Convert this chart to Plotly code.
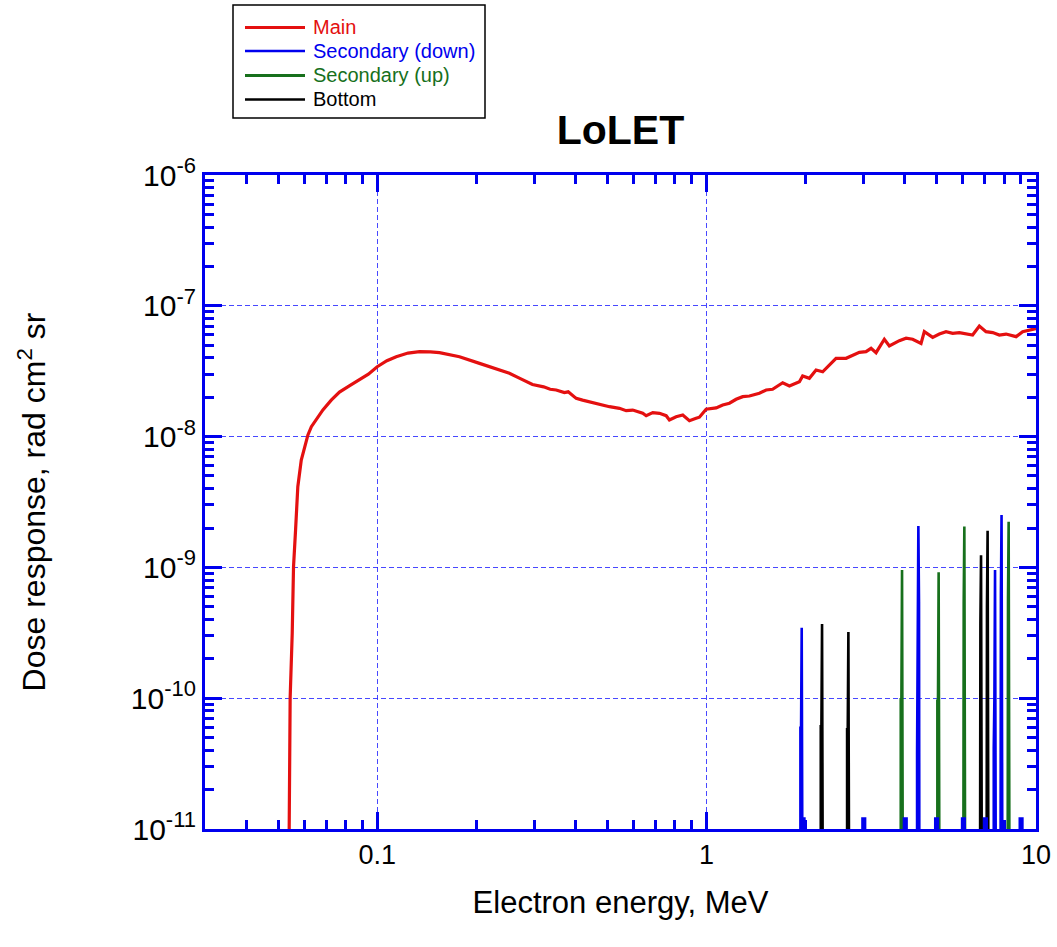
import plotly.graph_objects as go

# ---------------- data ----------------
main_E = [0.0540, 0.0542, 0.0544, 0.0552, 0.0557, 0.0565, 0.0574, 0.0588, 0.0616, 0.0631,
          0.0653, 0.0684, 0.0725, 0.0768, 0.0825, 0.0884, 0.094, 0.100, 0.107, 0.1142,
          0.124, 0.1344, 0.145, 0.1545, 0.1777, 0.2044, 0.2317, 0.2519, 0.270, 0.285,
          0.296, 0.320, 0.335, 0.3493, 0.370, 0.380, 0.4018, 0.420, 0.440,
          0.4727, 0.5070, 0.5437, 0.5698, 0.5967, 0.6399, 0.6554, 0.6863, 0.7192, 0.7537,
          0.7710, 0.8081, 0.8464, 0.8867, 0.9292, 0.9508, 0.9965, 1.069, 1.119, 1.173,
          1.229, 1.287, 1.349, 1.446, 1.516, 1.586, 1.702, 1.784, 1.913, 1.957,
          2.051, 2.149, 2.251, 2.358, 2.471, 2.651, 2.776, 2.909, 3.048, 3.157,
          3.269, 3.464, 3.587, 3.847, 4.032, 4.222, 4.477, 4.581, 4.856, 5.088,
          5.333, 5.584, 5.851, 6.42, 6.73, 7.05, 7.39, 7.74, 8.11, 8.70,
          9.11, 9.76, 10.0]
main_V = [8e-12, 6.05e-11, 1.0e-10, 3.15e-10, 1.01e-9, 1.93e-9, 4.14e-9, 6.62e-9, 1.03e-8, 1.19e-8,
          1.34e-8, 1.60e-8, 1.90e-8, 2.19e-8, 2.45e-8, 2.71e-8, 3.00e-8, 3.42e-8, 3.80e-8, 4.08e-8,
          4.35e-8, 4.46e-8, 4.45e-8, 4.38e-8, 4.08e-8, 3.63e-8, 3.27e-8, 3.05e-8, 2.80e-8, 2.62e-8,
          2.50e-8, 2.40e-8, 2.30e-8, 2.27e-8, 2.17e-8, 2.20e-8, 1.96e-8, 1.90e-8, 1.84e-8,
          1.774e-8, 1.693e-8, 1.645e-8, 1.578e-8, 1.596e-8, 1.507e-8, 1.445e-8, 1.524e-8, 1.507e-8, 1.445e-8,
          1.340e-8, 1.419e-8, 1.462e-8, 1.324e-8, 1.380e-8, 1.406e-8, 1.618e-8, 1.656e-8, 1.745e-8, 1.799e-8,
          1.929e-8, 2.02e-8, 2.044e-8, 2.143e-8, 2.27e-8, 2.30e-8, 2.58e-8, 2.44e-8, 2.63e-8, 2.91e-8,
          2.79e-8, 3.23e-8, 3.13e-8, 3.53e-8, 3.97e-8, 3.97e-8, 4.21e-8, 4.41e-8, 4.46e-8, 4.73e-8,
          4.38e-8, 5.55e-8, 4.93e-8, 5.41e-8, 5.65e-8, 5.55e-8, 5.16e-8, 6.34e-8, 5.74e-8, 6.08e-8,
          6.34e-8, 6.16e-8, 6.24e-8, 5.98e-8, 7.01e-8, 6.34e-8, 6.24e-8, 5.98e-8, 6.08e-8, 5.81e-8,
          6.34e-8, 6.61e-8, 6.70e-8]

# Secondary (down): spike energies, peak values, shoulder values, base values
down_E = [1.944, 1.963, 3.00, 4.01, 4.394, 4.99, 6.02, 7.02, 7.51, 7.86, 9.01]
down_peak = [3.46e-10, 1.2e-11, 1.2e-11, 1.2e-11, 2.07e-9, 1.2e-11, 1.2e-11, 1.2e-11, 9.55e-10, 2.52e-9, 1.2e-11]
down_mid = [5.95e-11, 1.2e-11, 1.2e-11, 1.2e-11, 5.47e-10, 1.2e-11, 1.2e-11, 1.2e-11, 1.0e-10, 6.34e-10, 1.2e-11]
down_low = [5.95e-11, 1.2e-11, 1.2e-11, 1.2e-11, 3.86e-11, 1.2e-11, 1.2e-11, 1.2e-11, 4.16e-11, 4.16e-11, 1.2e-11]

# Secondary (up)
up_E = [3.92, 5.063, 6.06, 8.26]
up_peak = [9.55e-10, 9.17e-10, 2.05e-9, 2.23e-9]
up_mid = [9.8e-11, 9.57e-11, 5.47e-10, 5.8e-10]
up_low = [9.8e-11, 9.57e-11, 3.86e-11, 3.9e-11]

# Bottom
bot_E = [2.241, 2.694, 6.81, 7.13]
bot_peak = [3.69e-10, 3.21e-10, 1.24e-9, 1.91e-9]
bot_mid = [6.1e-11, 5.78e-11, 3.74e-10, 5.07e-10]
bot_low = [6.1e-11, 5.78e-11, 3.81e-11, 3.81e-11]

series_names = ["Main", "Secondary (down)", "Secondary (up)", "Bottom"]

x_major = [0.1, 1, 10]
x_major_text = ["0.1", "1", "10"]
x_minor = [0.03, 0.04, 0.05, 0.06, 0.07, 0.08, 0.09,
           0.2, 0.3, 0.4, 0.5, 0.6, 0.7, 0.8, 0.9,
           2, 3, 4, 5, 6, 7, 8, 9]
y_major = [1e-11, 1e-10, 1e-9, 1e-8, 1e-7, 1e-6]
y_exponents = ["-11", "-10", "-9", "-8", "-7", "-6"]
y_minor = [k * d for d in [1e-11, 1e-10, 1e-9, 1e-8, 1e-7] for k in range(2, 10)]

RED = "#e41010"
BLUE = "#0000ee"
GREEN = "#17701c"
BLACK = "#000000"
COLORS = [RED, BLUE, GREEN, BLACK]
WIDTHS = [3.2, 2.5, 3, 2.5]
FONT = "Liberation Sans, Arial, sans-serif"

# plot-area geometry (px) used for the hand-drawn legend box
L, R, T, B = 205, 1036, 175, 829


def px_x(p):
    return (p - L) / (R - L)


def px_y(p):
    return (B - p) / (B - T)


def spikes(centers, peaks, mids, lows, r=1.0045, floor=1e-13):
    xs, ys = [], []
    for e, p, m, l in zip(centers, peaks, mids, lows):
        xs += [e / r**2, e / r**2, e / r, e, e * r, e * r**2, e * r**2]
        ys += [floor, l, m, p, m, l, floor]
    return xs, ys


fig = go.Figure()

fig.add_trace(go.Scatter(x=main_E, y=main_V, mode="lines",
                         line=dict(color=RED, width=WIDTHS[0]), name=series_names[0]))
ux, uy = spikes(up_E, up_peak, up_mid, up_low)
fig.add_trace(go.Scatter(x=ux, y=uy, mode="lines", line=dict(color=GREEN, width=2.6),
                         name=series_names[2]))
bx, by = spikes(bot_E, bot_peak, bot_mid, bot_low)
fig.add_trace(go.Scatter(x=bx, y=by, mode="lines", line=dict(color=BLACK, width=2.6),
                         name=series_names[3]))
dx, dy = spikes(down_E, down_peak, down_mid, down_low)
fig.add_trace(go.Scatter(x=dx, y=dy, mode="lines", line=dict(color=BLUE, width=2.6),
                         name=series_names[1]))

axis_common = dict(
    type="log", showline=True, linecolor=BLUE, linewidth=3, mirror="ticks",
    ticks="inside", ticklen=17, tickwidth=3, tickcolor=BLUE,
    showgrid=True, gridcolor="rgba(40,40,255,0.85)", gridwidth=1.3, griddash="5px,3px",
    zeroline=False, tickmode="array",
)

fig.update_xaxes(**axis_common, range=[-1.5229, 1.0], tickvals=x_major, ticktext=x_major_text,
                 tickfont=dict(family=FONT, size=27, color="black"),
                 minor=dict(tickmode="array", tickvals=x_minor, ticks="inside", ticklen=9,
                            tickwidth=3, tickcolor=BLUE, showgrid=False),
                 title=dict(text="Electron energy, MeV", font=dict(family=FONT, size=31, color="black"),
                            standoff=22))
fig.update_yaxes(**axis_common, range=[-11, -6], tickvals=y_major,
                 ticktext=[f"10<sup><span style='font-size:22px'>{e}</span></sup>" for e in y_exponents],
                 tickfont=dict(family=FONT, size=30, color="black"),
                 minor=dict(tickmode="array", tickvals=y_minor, ticks="inside", ticklen=9,
                            tickwidth=3, tickcolor=BLUE, showgrid=False),
                 title=dict(text="Dose response, rad cm<sup>2</sup> sr",
                            font=dict(family=FONT, size=32, color="black"), standoff=76))

# legend box drawn to match the reference (long line samples, coloured labels)
shapes = [dict(type="rect", xref="paper", yref="paper",
               x0=px_x(233), x1=px_x(485), y0=px_y(118), y1=px_y(5),
               line=dict(color="black", width=1.5), fillcolor="white", layer="above")]
annotations = []
rows = [27.5, 51, 75.5, 99.5]
for name, col, w, ry in zip(series_names, COLORS, WIDTHS, rows):
    shapes.append(dict(type="line", xref="paper", yref="paper",
                       x0=px_x(245), x1=px_x(305), y0=px_y(ry), y1=px_y(ry),
                       line=dict(color=col, width=w)))
    annotations.append(dict(text=name, xref="paper", yref="paper", x=px_x(311), y=px_y(ry),
                            xanchor="left", yanchor="middle", showarrow=False,
                            font=dict(family=FONT, size=20, color=col)))

fig.update_layout(
    width=1057, height=947,
    margin=dict(l=L, r=1057 - R, t=T, b=947 - B, autoexpand=False),
    paper_bgcolor="white", plot_bgcolor="white",
    title=dict(text="<b>LoLET</b>", x=0.5, xref="paper", xanchor="center",
               y=1 - 130 / 947, yref="container", yanchor="middle",
               font=dict(family=FONT, size=41, color="black")),
    shapes=shapes, annotations=annotations,
    showlegend=False,
)

fig.write_html("out.html")
